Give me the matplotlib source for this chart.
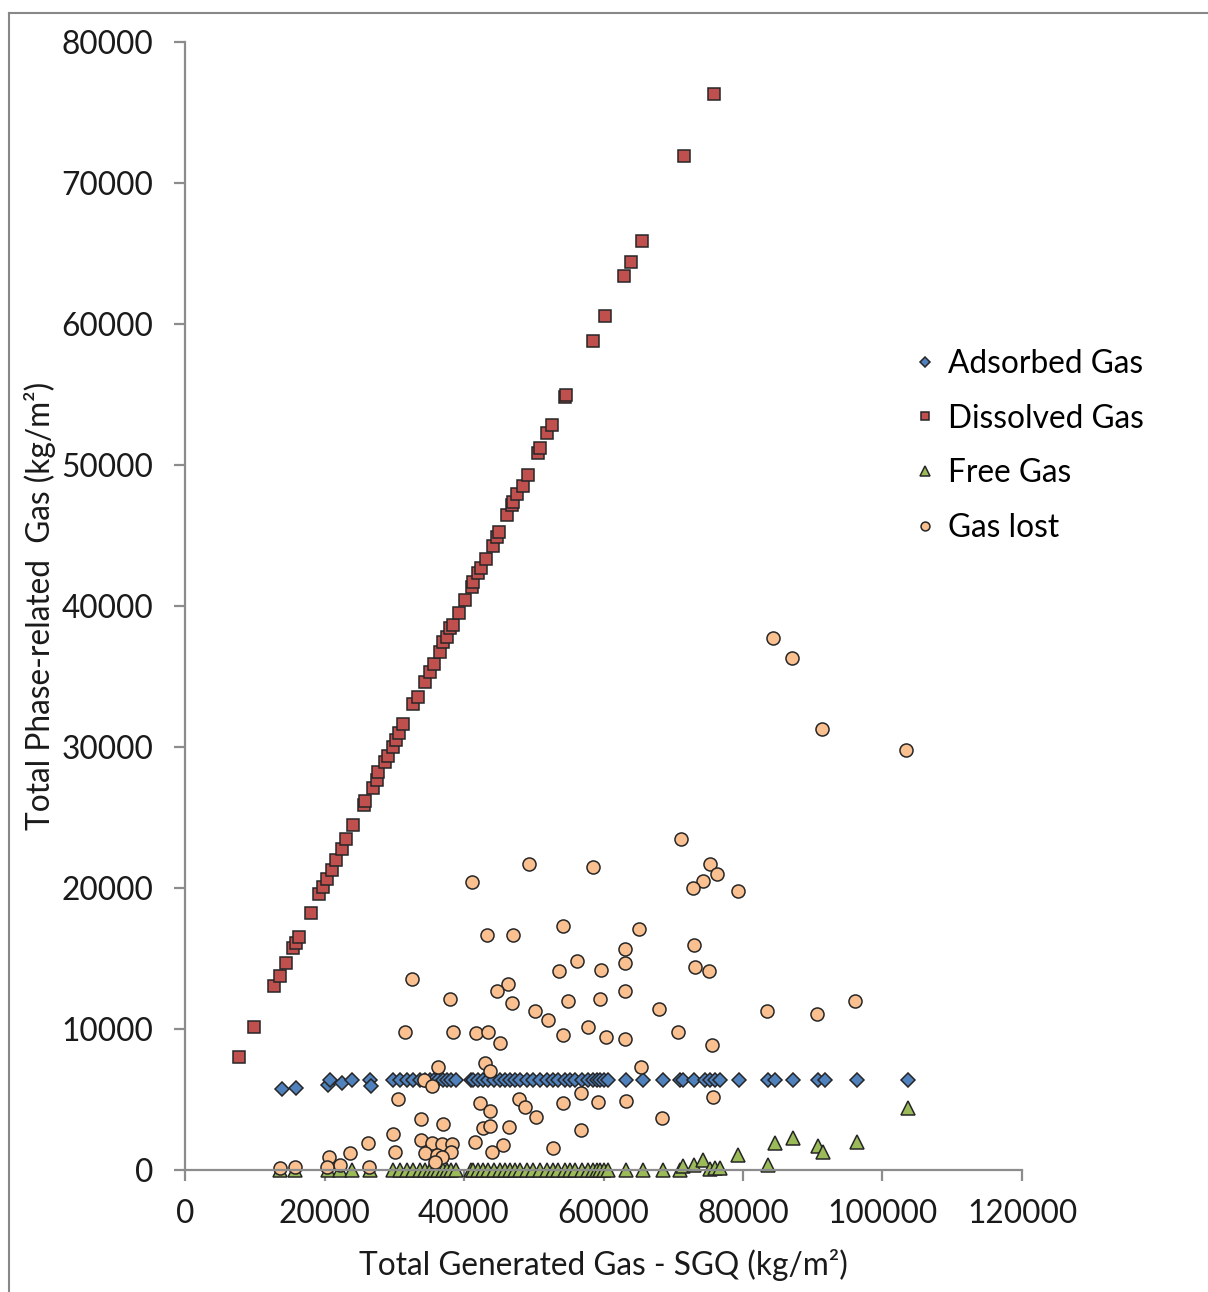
import matplotlib.pyplot as plt
from matplotlib.lines import Line2D

plt.rcParams['font.family'] = ['Lato', 'DejaVu Sans']

# ── DATOS (kg/m²) ─────────────────────────────────────────────────────────────
dis_x = [7740, 9890, 12800, 13620, 14480, 15530, 15910, 16340, 18060, 19260,
         19740, 20400, 21030, 21650, 22510, 23080, 24130, 25660, 25800, 26910,
         27480, 27700, 28670, 29150, 29870, 30300, 30680, 31300, 32740, 33450,
         34410, 35130, 35700, 36560, 37040, 37610, 37990, 38470, 39330, 40140,
         41190, 41340, 42060, 42440, 43110, 44110, 44690, 44950, 46210, 46840,
         47070, 47640, 48410, 49220, 50660, 50900, 51950, 52570, 54480, 54600,
         58500, 60220, 62940, 63940, 65520, 71540, 75840]
dis_y = [8040, 10120, 13050, 13760, 14710, 15720, 16130, 16510, 18250, 19570,
         20050, 20620, 21280, 21990, 22750, 23450, 24470, 25890, 26150, 27110,
         27660, 28200, 28960, 29360, 30030, 30500, 30970, 31630, 33050, 33580,
         34630, 35350, 35870, 36770, 37480, 37830, 38420, 38650, 39520, 40420,
         41380, 41700, 42330, 42730, 43330, 44290, 44920, 45270, 46450, 47160,
         47410, 47940, 48510, 49290, 50830, 51180, 52250, 52830, 54820, 54950,
         58790, 60570, 63400, 64400, 65880, 71910, 76310]

ads_x = [13860, 15910, 20550, 20790, 22460, 23990, 26520, 26670, 29820, 30830,
         31830, 32690, 33690, 34410, 35130, 35700, 36270, 36990, 37560, 38140,
         38850, 41000, 41340, 42010, 42720, 43440, 44300, 45160, 45880, 46600,
         47310, 48030, 49030, 49890, 50900, 51900, 52760, 53480, 54480, 55200,
         55910, 56920, 57780, 58500, 59070, 59500, 60070, 60640, 63230, 65620,
         68490, 70970, 71450, 73000, 74550, 75270, 75990, 76700, 79470, 83630,
         84590, 87210, 90800, 91760, 96300, 103700]
ads_y = [5740, 5840, 6030, 6380, 6170, 6380, 6380, 5960, 6350, 6350,
         6350, 6350, 6350, 6350, 6350, 6350, 6350, 6350, 6350, 6350,
         6350, 6350, 6350, 6350, 6350, 6350, 6350, 6350, 6350, 6350,
         6350, 6350, 6350, 6350, 6350, 6350, 6350, 6350, 6350, 6350,
         6350, 6350, 6350, 6350, 6350, 6350, 6350, 6350, 6350, 6350,
         6350, 6350, 6350, 6350, 6350, 6350, 6350, 6350, 6350, 6350,
         6350, 6350, 6350, 6350, 6350, 6350]

free_x = [13620, 15770, 20550, 22220, 23990, 26520, 29820, 30830, 31830, 32690,
          33690, 34410, 35130, 35700, 36270, 36990, 37560, 38140, 38850, 41000,
          41340, 42010, 42720, 43440, 44300, 45160, 45880, 46600, 47310, 48030,
          49030, 49890, 50900, 51900, 52760, 53480, 54480, 55200, 55910, 56920,
          57780, 58500, 59070, 59500, 60070, 60640, 63230, 65620, 68490, 70970,
          71330, 72980, 74310, 75270, 75990, 76700, 79330, 83630, 84590, 87210,
          90760, 91470, 96300, 103700]
free_y = [0, 0, 0, 0, 0, 0, 0, 0, 0, 0,
          0, 0, 0, 0, 0, 0, 0, 0, 0, 0,
          0, 0, 0, 0, 0, 0, 0, 0, 0, 0,
          0, 0, 0, 0, 0, 0, 0, 0, 0, 0,
          0, 0, 0, 0, 0, 0, 0, 0, 0, 0,
          300, 350, 710, 100, 150, 150, 1060, 350, 1890, 2250,
          1700, 1280, 2010, 4380]

lost_x = [31540, 38470, 41720, 36320, 34270, 35360, 30590, 33790, 36940, 29770,
          26280, 33790, 35360, 36800, 38230, 30110, 23660, 34410, 36080, 38090,
          36800, 20650, 35840, 22220, 13620, 15770, 20310, 26430,
          43490, 45160, 52090, 54240, 57820, 60360, 63080, 70610, 75490, 43010,
          43730, 65380, 42290, 43730, 47930, 48750, 50320, 54130, 56770, 59260,
          63230, 68320, 75630, 42770, 43730, 46490, 56770, 41580, 45640, 43970,
          52770,
          49370, 41190, 43250, 47070, 54240, 32500, 37990, 53620, 56150, 46240,
          44770, 46840, 50180, 54840,
          71110, 58450, 75270, 76320, 74220, 72790, 79330, 65140, 63080, 63080,
          72980, 59640, 73120, 75130, 59500, 63080, 67940, 83490, 90560, 96060,
          84300, 87030, 91330, 103370]
lost_y = [9810, 9810, 9690, 7330, 6380, 5960, 5040, 3600, 3260, 2530,
          1890, 2130, 1890, 1840, 1840, 1300, 1180, 1180, 1060, 1300,
          940, 900, 590, 350, 160, 230, 230, 230,
          9810, 8980, 10640, 9570, 10120, 9400, 9290, 9810, 8870, 7570,
          7050, 7330, 4730, 4210, 5010, 4450, 3780, 4730, 5440, 4850,
          4920, 3660, 5200, 2960, 3120, 3030, 2840, 2010, 1770, 1300,
          1580,
          21680, 20450, 16670, 16670, 17300, 13550, 12100, 14080, 14790, 13170,
          12720, 11820, 11280, 11990,
          23450, 21470, 21700, 20970, 20520, 20030, 19810, 17090, 15650, 14710,
          15960, 14180, 14420, 14080, 12100, 12720, 11400, 11280, 11060, 11990,
          37730, 36310, 31280, 29790]

series = [
    ("Adsorbed Gas", ads_x, ads_y, "D", 7.0, "#4F81BD"),
    ("Dissolved Gas", dis_x, dis_y, "s", 9.2, "#C0504D"),
    ("Free Gas", free_x, free_y, "^", 9.8, "#9BBB59"),
    ("Gas lost", lost_x, lost_y, "o", 9.4, "#FAC090"),
]

# ── GRÁFICA ───────────────────────────────────────────────────────────────────
fig = plt.figure(figsize=(12.08, 12.92), dpi=100)
ax = fig.add_axes([185 / 1208, 1 - 1170 / 1292, 837 / 1208, 1128 / 1292])

for nombre, xs, ys, mk, ms, col in series:
    ax.plot(xs, ys, linestyle='none', marker=mk, markersize=ms,
            markerfacecolor=col, markeredgecolor='#262626',
            markeredgewidth=1.1, label=nombre, clip_on=False)

ax.set_xlim(0, 120000)
ax.set_ylim(0, 80000)
ax.set_xticks(range(0, 120001, 20000))
ax.set_yticks(range(0, 80001, 10000))

fs = 22.8
gris = '#8C8C8C'
for lado in ['top', 'right']:
    ax.spines[lado].set_visible(False)
for lado in ['left', 'bottom']:
    ax.spines[lado].set_color(gris)
    ax.spines[lado].set_linewidth(1.6)
ax.tick_params(axis='both', direction='out', length=8, width=1.6, color=gris,
               labelsize=fs, labelcolor='#1a1a1a')
ax.tick_params(axis='y', pad=15)
ax.tick_params(axis='x', pad=13)

ax.set_xlabel("Total Generated Gas - SGQ (kg/m²)", fontsize=fs,
              color='#1a1a1a', va='center')
ax.xaxis.set_label_coords(0.5, (1170 - 1265) / 1128)
ax.set_ylabel("Total Phase-related  Gas (kg/m²)", fontsize=fs,
              color='#1a1a1a', va='center')
ax.yaxis.set_label_coords((40 - 185) / 837, 0.5)

ax.legend(loc='upper left', bbox_to_anchor=(896 / 1208, 1 - 333 / 1292),
          bbox_transform=fig.transFigure, frameon=False, fontsize=fs,
          markerscale=0.68, handlelength=0.8, handletextpad=0.35,
          labelspacing=0.78, borderpad=0)

# marco exterior
fig.add_artist(Line2D([8.5 / 1208, 8.5 / 1208], [0, 1 - 12.5 / 1292],
                      transform=fig.transFigure, color='#888888', lw=1.5))
fig.add_artist(Line2D([8.5 / 1208, 1], [1 - 12.5 / 1292, 1 - 12.5 / 1292],
                      transform=fig.transFigure, color='#888888', lw=1.5))

plt.savefig("out.png", dpi=100)
